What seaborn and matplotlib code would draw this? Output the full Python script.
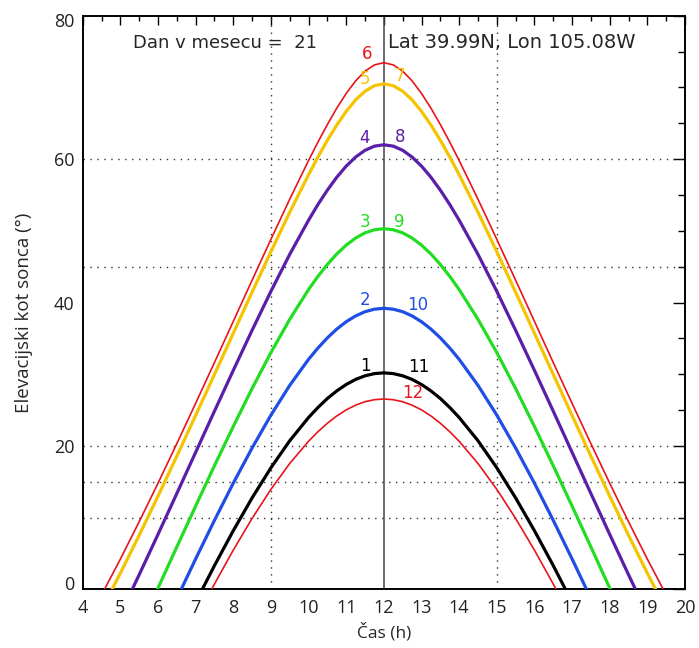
import matplotlib
matplotlib.use("Agg")
import matplotlib.pyplot as plt
from matplotlib.ticker import MultipleLocator, FuncFormatter
from matplotlib.transforms import ScaledTranslation
import seaborn as sns
import pandas as pd

# ---- data ----
hours_jun = [4.0, 4.5, 5.0, 5.5, 6.0, 6.5, 7.0, 7.5, 8.0, 8.5, 9.0, 9.5,
             10.0, 10.25, 10.5, 10.75, 11.0, 11.25, 11.5, 11.75, 12.0, 12.25, 12.5, 12.75,
             13.0, 13.25, 13.5, 13.75, 14.0,
             14.5, 15.0, 15.5, 16.0, 16.5, 17.0, 17.5, 18.0, 18.5, 19.0, 19.5, 20.0]
elev_jun = [-5.49, -0.76, 4.23, 9.44, 14.81, 20.33, 25.95, 31.64, 37.38, 43.12, 48.82, 54.42,
            59.81, 62.38, 64.83, 67.11, 69.16, 70.91, 72.27, 73.14, 73.44, 73.14, 72.27, 70.91,
            69.16, 67.11, 64.83, 62.38, 59.81,
            54.42, 48.82, 43.12, 37.38, 31.64, 25.95, 20.33, 14.81, 9.44, 4.23, -0.76, -5.49]

hours_may_jul = [4.5, 5.0, 5.5, 6.0, 6.5, 7.0, 7.5, 8.0, 8.5, 9.0, 9.5,
                 10.0, 10.25, 10.5, 10.75, 11.0, 11.25, 11.5, 11.75, 12.0, 12.25, 12.5, 12.75,
                 13.0, 13.25, 13.5, 13.75, 14.0,
                 14.5, 15.0, 15.5, 16.0, 16.5, 17.0, 17.5, 18.0, 18.5, 19.0, 19.5]
elev_may_jul = [-2.84, 2.26, 7.55, 13.01, 18.59, 24.26, 29.98, 35.72, 41.45, 47.10, 52.60,
                57.83, 60.30, 62.63, 64.76, 66.66, 68.26, 69.47, 70.24, 70.50, 70.24, 69.47, 68.26,
                66.66, 64.76, 62.63, 60.30, 57.83,
                52.60, 47.10, 41.45, 35.72, 29.98, 24.26, 18.59, 13.01, 7.55, 2.26, -2.84]

hours_apr_aug = [5.0, 5.5, 6.0, 6.5, 7.0, 7.5, 8.0, 8.5, 9.0, 9.5,
                 10.0, 10.25, 10.5, 10.75, 11.0, 11.25, 11.5, 11.75, 12.0, 12.25, 12.5, 12.75,
                 13.0, 13.25, 13.5, 13.75, 14.0,
                 14.5, 15.0, 15.5, 16.0, 16.5, 17.0, 17.5, 18.0, 18.5, 19.0]
elev_apr_aug = [-3.46, 2.05, 7.68, 13.38, 19.12, 24.86, 30.55, 36.14, 41.57, 46.73,
                51.49, 53.68, 55.68, 57.48, 59.03, 60.29, 61.23, 61.81, 62.00, 61.81, 61.23, 60.29,
                59.03, 57.48, 55.68, 53.68, 51.49,
                46.73, 41.57, 36.14, 30.55, 24.86, 19.12, 13.38, 7.68, 2.05, -3.46]

hours_mar_sep = [5.5, 6.0, 6.5, 7.0, 7.5, 8.0, 8.5, 9.0, 9.5,
                 10.0, 10.25, 10.5, 10.75, 11.0, 11.25, 11.5, 11.75, 12.0, 12.25, 12.5, 12.75,
                 13.0, 13.25, 13.5, 13.75, 14.0,
                 14.5, 15.0, 15.5, 16.0, 16.5, 17.0, 17.5, 18.0, 18.5]
elev_mar_sep = [-5.55, 0.19, 5.93, 11.63, 17.25, 22.73, 28.02, 33.03, 37.67,
                41.82, 43.66, 45.32, 46.78, 48.01, 49.00, 49.72, 50.15, 50.30, 50.15, 49.72, 49.00,
                48.01, 46.78, 45.32, 43.66, 41.82,
                37.67, 33.03, 28.02, 22.73, 17.25, 11.63, 5.93, 0.19, -5.55]

hours_feb_oct = [6.5, 7.0, 7.5, 8.0, 8.5, 9.0, 9.5,
                 10.0, 10.25, 10.5, 10.75, 11.0, 11.25, 11.5, 11.75, 12.0, 12.25, 12.5, 12.75,
                 13.0, 13.25, 13.5, 13.75, 14.0,
                 14.5, 15.0, 15.5, 16.0, 16.5, 17.0, 17.5]
elev_feb_oct = [-1.27, 4.26, 9.64, 14.82, 19.73, 24.31, 28.46,
                32.09, 33.67, 35.08, 36.31, 37.33, 38.14, 38.73, 39.08, 39.20, 39.08, 38.73, 38.14,
                37.33, 36.31, 35.08, 33.67, 32.09,
                28.46, 24.31, 19.73, 14.82, 9.64, 4.26, -1.27]

hours_jan_nov = [7.0, 7.5, 8.0, 8.5, 9.0, 9.5,
                 10.0, 10.25, 10.5, 10.75, 11.0, 11.25, 11.5, 11.75, 12.0, 12.25, 12.5, 12.75,
                 13.0, 13.25, 13.5, 13.75, 14.0,
                 14.5, 15.0, 15.5, 16.0, 16.5, 17.0]
elev_jan_nov = [-1.79, 3.33, 8.20, 12.77, 16.97, 20.74,
                23.98, 25.38, 26.63, 27.69, 28.58, 29.29, 29.79, 30.10, 30.20, 30.10, 29.79, 29.29,
                28.58, 27.69, 26.63, 25.38, 23.98,
                20.74, 16.97, 12.77, 8.20, 3.33, -1.79]

hours_dec = [7.0, 7.5, 8.0, 8.5, 9.0, 9.5,
             10.0, 10.25, 10.5, 10.75, 11.0, 11.25, 11.5, 11.75, 12.0, 12.25, 12.5, 12.75,
             13.0, 13.25, 13.5, 13.75, 14.0,
             14.5, 15.0, 15.5, 16.0, 16.5, 17.0]
elev_dec = [-4.23, 0.76, 5.49, 9.91, 13.96, 17.57,
            20.67, 22.00, 23.18, 24.20, 25.04, 25.70, 26.18, 26.46, 26.56, 26.46, 26.18, 25.70,
            25.04, 24.20, 23.18, 22.00, 20.67,
            17.57, 13.96, 9.91, 5.49, 0.76, -4.23]

curve_names = ["6", "5/7", "4/8", "3/9", "2/10", "1/11", "12"]
curve_colors = ["#e8141c", "#f5c400", "#5a1ea8", "#22dd22", "#1f4ee6", "#000000", "#e8141c"]

month_labels = ["6", "5", "7", "4", "8", "3", "9", "2", "10", "1", "11", "12"]
label_x = [11.56, 11.49, 12.42, 11.49, 12.42, 11.50, 12.42, 11.50, 12.90, 11.50, 12.92, 12.76]
label_y = [74.6, 71.2, 71.6, 62.9, 63.1, 51.2, 51.3, 40.3, 39.7, 31.2, 31.0, 27.4]
label_colors = ["#e8141c", "#f5c400", "#f5c400", "#5a1ea8", "#5a1ea8", "#22dd22", "#22dd22",
                "#1f4ee6", "#1f4ee6", "#000000", "#000000", "#e8141c"]

grid_x = [9, 15]
grid_y = [10, 15, 20, 45, 60]
y_edge_labels = [0, 80]

series = [
    (hours_jun, elev_jun), (hours_may_jul, elev_may_jul), (hours_apr_aug, elev_apr_aug),
    (hours_mar_sep, elev_mar_sep), (hours_feb_oct, elev_feb_oct), (hours_jan_nov, elev_jan_nov),
    (hours_dec, elev_dec),
]
frames = []
for name, (h, e) in zip(curve_names, series):
    frames.append(pd.DataFrame({"hour": h, "elev": e, "curve": name}))
df = pd.concat(frames, ignore_index=True)

# ---- figure ----
sns.set_style("white")
plt.rcParams["font.family"] = ["DejaVu Sans"]

fig = plt.figure(figsize=(6.99, 6.48), dpi=100)
ax = fig.add_axes([0.1183, 0.0903, 0.8617, 0.8855])

for gx in grid_x:
    ax.axvline(gx, color="#333333", lw=1.0, ls=(0, (1, 4)), zorder=1)
for gy in grid_y:
    ax.axhline(gy, color="#333333", lw=1.0, ls=(0, (1, 4)), zorder=1)
ax.axvline(12, color="#444444", lw=1.1, zorder=1)

widths = {"6": 1.2, "12": 1.2}
for name, col in zip(curve_names, curve_colors):
    sub = df[df["curve"] == name]
    sns.lineplot(data=sub, x="hour", y="elev", ax=ax, color=col,
                 linewidth=widths.get(name, 2.3), sort=False, estimator=None, zorder=3)

for t, x, y, c in zip(month_labels, label_x, label_y, label_colors):
    ax.text(x, y, t, color=c, fontsize=12, ha="center", va="center", zorder=4)

ax.text(5.34, 76.2, "Dan v mesecu =  21", fontsize=13, ha="left", va="center")
ax.text(12.12, 76.2, "Lat 39.99N, Lon 105.08W", fontsize=14, ha="left", va="center")

ax.set_xlim(4, 20)
ax.set_ylim(0, 80)
ax.xaxis.set_major_locator(MultipleLocator(1))
ax.xaxis.set_minor_locator(MultipleLocator(0.5))
ax.yaxis.set_major_locator(MultipleLocator(20))
ax.yaxis.set_minor_locator(MultipleLocator(5))
# the 0 and 80 labels are drawn separately (nudged inside the frame as in the reference)
ax.yaxis.set_major_formatter(FuncFormatter(lambda v, p: "" if round(v) in y_edge_labels else f"{v:.0f}"))

ax.tick_params(which="both", direction="in", top=True, right=True, colors="black", width=1.0)
ax.tick_params(axis="x", which="major", length=6.5, pad=7)
ax.tick_params(axis="x", which="minor", length=3.5)
ax.tick_params(axis="y", which="major", length=8.5, pad=6)
ax.tick_params(axis="y", which="minor", length=5)

for lab in ax.get_xticklabels() + ax.get_yticklabels():
    lab.set_fontfamily("Open Sans")
    lab.set_fontsize(13)
    lab.set_color("#222222")

ytrans = ax.get_yaxis_transform()
for v, dy in zip(y_edge_labels, [3.2, -4.6]):
    tr = ytrans + ScaledTranslation(-6 / 72, dy / 72, fig.dpi_scale_trans)
    ax.text(0, v, f"{v}", transform=tr, ha="right", va="center", fontfamily="Open Sans",
            fontsize=13, color="#222222", clip_on=False)

for sp in ax.spines.values():
    sp.set_color("black")
    sp.set_linewidth(1.4)

ax.set_xlabel("Čas (h)", fontsize=12.5, fontfamily="Open Sans", labelpad=4)
ax.set_ylabel("Elevacijski kot sonca (°)", fontsize=13.5, fontfamily="Open Sans")
ax.yaxis.set_label_coords(-0.083, 0.482)
ax.grid(False)
if ax.get_legend() is not None:
    ax.get_legend().remove()

fig.savefig("out.png", dpi=100)
